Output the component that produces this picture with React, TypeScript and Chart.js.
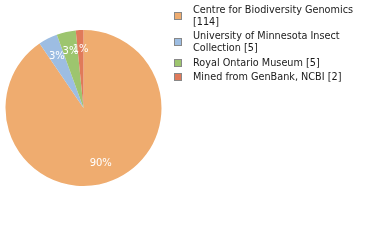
import React, { useEffect, useRef } from "react";
import { Chart, registerables } from "chart.js";

Chart.register(...registerables);

const labels = [
  "Centre for Biodiversity Genomics [114]",
  "University of Minnesota Insect Collection [5]",
  "Royal Ontario Museum [5]",
  "Mined from GenBank, NCBI [2]",
];
const legendLines = [
  ["Centre for Biodiversity Genomics", "[114]"],
  ["University of Minnesota Insect", "Collection [5]"],
  ["Royal Ontario Museum [5]"],
  ["Mined from GenBank, NCBI [2]"],
];
const values = [114, 5, 5, 2];
const colors = ["#EFAC6F", "#9DBDE2", "#9DC56E", "#E07A5A"];

const FONT = "DejaVu Sans";

const sliceLabels = {
  id: "sliceLabels",
  afterDatasetsDraw(chart: any) {
    const ctx = chart.ctx;
    const meta = chart.getDatasetMeta(0);
    const data = chart.data.datasets[0].data as number[];
    const total = data.reduce((a, b) => a + b, 0);
    ctx.save();
    ctx.fillStyle = "#ffffff";
    ctx.font = `10px ${FONT}`;
    ctx.textAlign = "center";
    ctx.textBaseline = "middle";
    meta.data.forEach((arc: any, i: number) => {
      const p = arc.getProps(["x", "y", "startAngle", "endAngle", "outerRadius"], true);
      const mid = (p.startAngle + p.endAngle) / 2;
      const r = p.outerRadius * 0.75;
      const pct = Math.floor((data[i] / total) * 100);
      ctx.fillText(`${pct}%`, p.x + Math.cos(mid) * r, p.y + Math.sin(mid) * r);
    });
    ctx.restore();
  },
};

const customLegend = {
  id: "customLegend",
  afterDraw(chart: any) {
    const ctx = chart.ctx;
    const lh = 12;
    const gap = 2.5;
    ctx.save();
    ctx.font = `9.7px ${FONT}`;
    ctx.textBaseline = "alphabetic";
    ctx.textAlign = "left";
    let y = 12.5;
    legendLines.forEach((lines, i) => {
      const cy = Math.round(y - 3 + ((lines.length - 1) * lh) / 2);
      ctx.fillStyle = colors[i];
      ctx.fillRect(174.5, cy - 3.5, 7, 7);
      ctx.strokeStyle = "#888888";
      ctx.lineWidth = 1;
      ctx.strokeRect(174.5, cy - 3.5, 7, 7);
      ctx.fillStyle = "#1a1a1a";
      lines.forEach((t, j) => {
        ctx.fillText(t, 193, y + j * lh);
      });
      y += lines.length * lh + gap;
    });
    ctx.restore();
  },
};

export default function App() {
  const ref = useRef<HTMLCanvasElement>(null);
  useEffect(() => {
    if (!ref.current) return;
    const chart = new Chart(ref.current, {
      type: "pie",
      data: {
        labels,
        datasets: [
          {
            data: values,
            backgroundColor: colors,
            borderWidth: 0,
          },
        ],
      },
      options: {
        responsive: false,
        animation: false,
        layout: { padding: { left: 5, top: 30, right: 218, bottom: 54 } },
        plugins: {
          legend: { display: false },
          tooltip: { enabled: false },
        },
      },
      plugins: [sliceLabels, customLegend],
    });
    return () => chart.destroy();
  }, []);
  return (
    <div style={{ position: "absolute", left: 0, top: 0, width: 380, height: 240, background: "#fff" }}>
      <canvas ref={ref} width={380} height={240} style={{ width: 380, height: 240 }} />
    </div>
  );
}
